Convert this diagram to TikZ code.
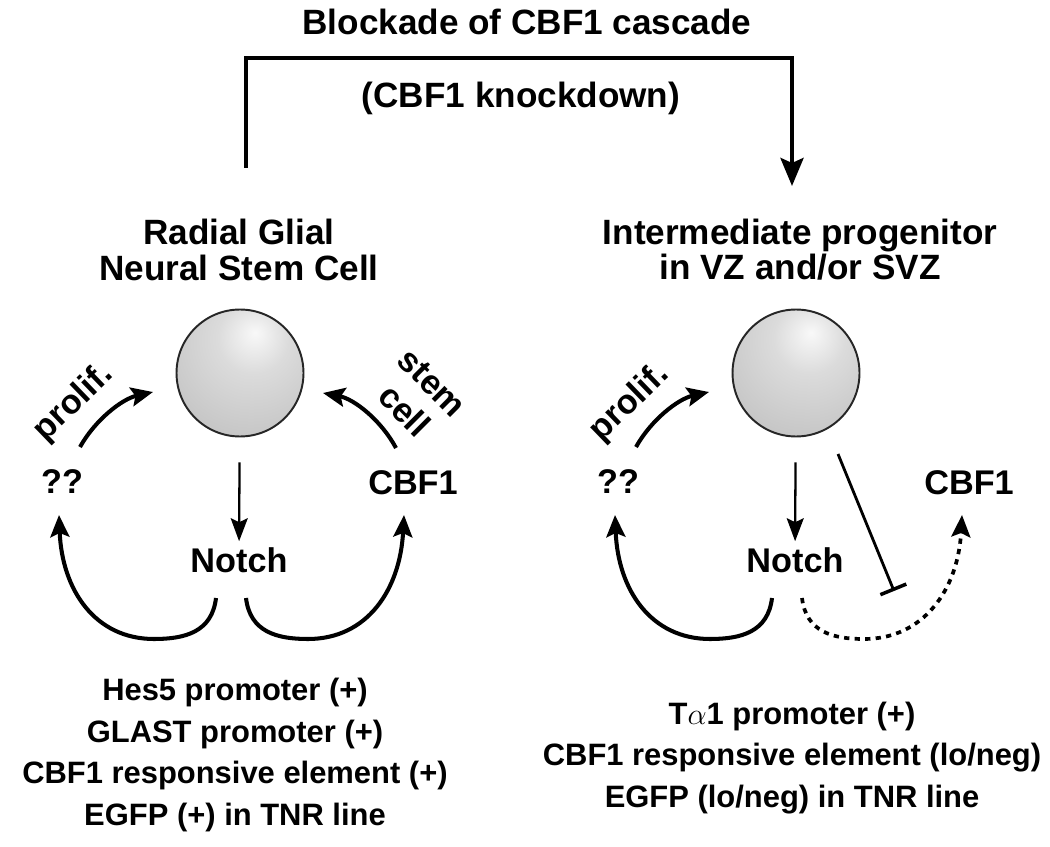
\documentclass[tikz,border=0pt]{standalone}
\usepackage{fontspec}
\setmainfont{Liberation Sans}
\usetikzlibrary{arrows.meta}
\pgfdeclareradialshading{cellshade}{\pgfpoint{6bp}{16bp}}{%
  color(0bp)=(gray!5); color(14bp)=(gray!28); color(40bp)=(gray!48);
  color(66bp)=(gray!70); color(100bp)=(gray!70)}

\begin{document}
\begin{tikzpicture}[
  head/.style={font=\bfseries\fontsize{20}{20}\selectfont, align=center},
  lab/.style={font=\bfseries\fontsize{19.5}{22.5}\selectfont, align=center},
  note/.style={font=\bfseries\fontsize{17.6}{23.6}\selectfont, align=center},
  cellball/.style={circle, draw=black!85, line width=1.1pt, inner sep=0pt,
    minimum size=2.54cm, shading=cellshade},
  arr/.style={-{Stealth[length=0.44cm,width=0.38cm,inset=0.08cm]}, line width=2.3pt},
  thinarr/.style={-{Stealth[length=0.46cm,width=0.34cm,inset=0.08cm]}, line width=1.3pt},
  bracket/.style={-{Stealth[length=0.56cm,width=0.46cm,inset=0.1cm]}, line width=2.5pt},
  inhib/.style={-{Bar[width=0.56cm,line width=2pt]}, line width=1.6pt},
  dotarr/.style={arr, line width=2.1pt, dash pattern=on 3pt off 3pt}
]
  \begin{scope}[x=0.02cm,y=-0.02cm]
    \useasboundingbox (0,0) rectangle (1050,847);

    % blockade bracket
    \node[head] (title) at (527,22) {Blockade of CBF1 cascade};
    \node[head] (kd) at (521,98) {(CBF1 knockdown)};
    \coordinate (bkL) at (246,168);
    \coordinate (bkR) at (792,186);
    \draw[bracket] (bkL) -- ++(0,-110) -| (bkR);

    \node[head] (headL) at (239,250) {Radial Glial\\Neural Stem Cell};
    \node[head] (headR) at (800,250) {Intermediate progenitor\\in VZ and/or SVZ};

    % left: radial glia
    \node[cellball] (cellL) at (240,373) {};
    \node[lab] (qqL) at (62,482) {??};
    \node[lab] (cbfL) at (413,483) {CBF1};
    \node[lab] (notchL) at (239,560) {Notch};
    \node[lab, rotate=44] (prolL) at (74,403) {prolif.};
    \node[lab, rotate=-45] (stemL) at (418,397) {stem\\cell};

    \draw[thinarr, shorten <=0.5cm] (cellL) -- (notchL);

    \coordinate (pL0) at (80,447);
    \coordinate (pL1) at (153,392);
    \draw[arr] (pL0) .. controls (95,420) and (122,399) .. (pL1);
    \coordinate (sL0) at (396,448);
    \coordinate (sL1) at (323,393);
    \draw[arr] (sL0) .. controls (381,420) and (354,399) .. (sL1);

    \coordinate (nL0) at (216,598);
    \coordinate (qL1) at (59,515);
    \draw[arr] (nL0) .. controls (212,632) and (185,639) .. (154,639)
      .. controls (95,639) and (62,590) .. (qL1);
    \coordinate (nL2) at (246,598);
    \coordinate (cL1) at (404,515);
    \draw[arr] (nL2) .. controls (250,632) and (277,639) .. (308,639)
      .. controls (367,639) and (400,590) .. (cL1);

    % right: intermediate progenitor
    \node[cellball] (cellR) at (796,373) {};
    \node[lab] (qqR) at (618,482) {??};
    \node[lab] (cbfR) at (969,483) {CBF1};
    \node[lab] (notchR) at (795,560) {Notch};
    \node[lab, rotate=44] (prolR) at (630,403) {prolif.};

    \draw[thinarr, shorten <=0.5cm] (cellR) -- (notchR);

    \coordinate (pR0) at (636,447);
    \coordinate (pR1) at (709,392);
    \draw[arr] (pR0) .. controls (651,420) and (678,399) .. (pR1);

    \coordinate (nR0) at (772,598);
    \coordinate (qR1) at (615,515);
    \draw[arr] (nR0) .. controls (768,632) and (741,639) .. (710,639)
      .. controls (651,639) and (618,590) .. (qR1);
    \coordinate (nR2) at (802,598);
    \coordinate (cR1) at (962,515);
    \draw[dotarr] (nR2) .. controls (806,632) and (833,639) .. (864,639)
      .. controls (923,639) and (958,590) .. (cR1);

    \coordinate (iR0) at (838,454);
    \coordinate (iR1) at (894,591);
    \draw[inhib] (iR0) -- (iR1);

    % reporters
    \node[note] (markL) at (235,755) {Hes5 promoter (+)\\GLAST promoter (+)\\CBF1 responsive element (+)\\EGFP (+) in TNR line};
    \node[note] (markR) at (792,758) {T$\alpha$1 promoter (+)\\CBF1 responsive element (lo/neg)\\EGFP (lo/neg) in TNR line};
  \end{scope}
\end{tikzpicture}
\end{document}
